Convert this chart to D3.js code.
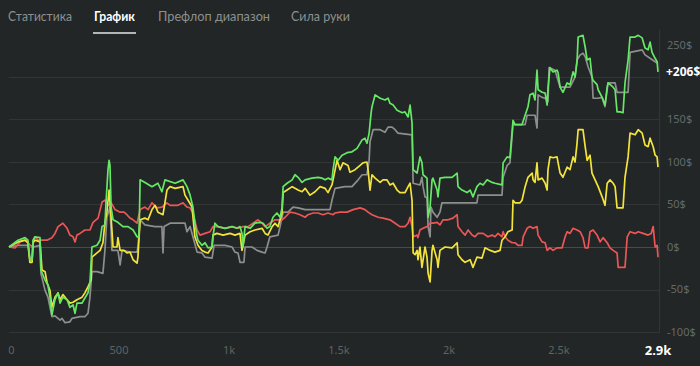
<!DOCTYPE html>
<html><head><meta charset="utf-8">
<script src="https://cdn.jsdelivr.net/npm/d3@7"></script>
<style>
html,body{margin:0;padding:0;background:#222626;}
svg{display:block;}
</style></head>
<body>
<svg id="c" width="700" height="366"></svg>
<script>
const tabs = ["Статистика", "График", "Префлоп диапазон", "Сила руки"];
const activeTab = "График";
const yTicks = [-100, -50, 0, 50, 100, 150, 200, 250];
const xTicks = [0, 500, 1000, 1500, 2000, 2500];
const xTickLabels = ["0", "500", "1k", "1.5k", "2k", "2.5k"];
const totalHands = 2950;
const totalHandsLabel = "2.9k";
const finalLabel = "+206$";

const green = [[0,0],[41,8],[73,11],[86,8],[95,-15],[105,-15],[109,8],[118,12],[141,11],[145,-27],[164,-39],[177,-45],[186,-59],[195,-80],[209,-62],[223,-54],[232,-66],[245,-59],[264,-62],[277,-71],[291,-68],[300,-78],[309,-66],[332,-66],[345,-60],[359,-54],[368,-42],[377,0],[400,2],[414,8],[423,24],[436,26],[441,52],[450,91],[455,102],[459,96],[464,47],[473,32],[495,29],[518,24],[541,24],[564,20],[582,12],[591,12],[596,79],[618,76],[650,71],[677,75],[695,65],[709,79],[755,75],[791,79],[809,71],[823,61],[836,47],[845,28],[855,12],[859,8],[877,2],[891,5],[905,-1],[923,0],[927,12],[936,28],[950,24],[982,22],[1014,24],[1036,22],[1050,24],[1059,16],[1064,0],[1073,24],[1096,22],[1118,28],[1141,29],[1155,28],[1173,22],[1186,24],[1200,35],[1218,40],[1232,35],[1241,46],[1246,71],[1264,75],[1287,79],[1300,85],[1314,82],[1332,76],[1346,79],[1377,81],[1405,82],[1423,81],[1437,79],[1450,81],[1468,79],[1473,91],[1482,106],[1496,102],[1514,108],[1537,111],[1559,112],[1582,116],[1605,126],[1618,128],[1627,122],[1637,134],[1646,158],[1650,165],[1664,179],[1687,175],[1709,173],[1723,175],[1732,169],[1746,167],[1764,161],[1787,158],[1800,159],[1814,153],[1823,167],[1832,146],[1837,91],[1855,87],[1868,106],[1877,99],[1882,85],[1900,81],[1905,35],[1914,47],[1923,79],[1927,81],[1946,67],[1950,59],[1959,81],[1982,82],[2014,82],[2037,87],[2041,71],[2059,67],[2082,64],[2096,67],[2109,59],[2127,71],[2141,75],[2155,73],[2173,79],[2196,76],[2209,75],[2241,73],[2246,99],[2264,106],[2277,105],[2291,149],[2300,144],[2332,144],[2346,155],[2359,165],[2368,179],[2382,181],[2391,173],[2400,208],[2405,185],[2423,182],[2437,181],[2446,167],[2450,187],[2459,211],[2473,206],[2491,208],[2496,205],[2505,188],[2518,182],[2537,193],[2550,191],[2564,206],[2573,200],[2582,218],[2587,247],[2609,249],[2619,235],[2628,220],[2641,222],[2650,200],[2655,196],[2673,191],[2678,185],[2696,176],[2709,167],[2719,188],[2723,193],[2746,188],[2755,185],[2764,159],[2778,159],[2791,158],[2800,193],[2814,220],[2823,247],[2846,247],[2860,249],[2878,246],[2891,234],[2905,232],[2914,241],[2923,229],[2937,222],[2946,218],[2950,206]];

const yellow = [[0,0],[41,6],[73,8],[86,5],[95,-18],[105,-18],[109,5],[118,8],[141,6],[150,-27],[164,-29],[173,-42],[186,-51],[195,-71],[209,-59],[223,-54],[232,-62],[245,-56],[264,-62],[277,-66],[291,-65],[309,-62],[332,-59],[345,-54],[359,-47],[373,-39],[377,-12],[400,-7],[414,-4],[427,5],[436,28],[445,41],[455,67],[464,35],[473,0],[491,0],[495,11],[505,-4],[523,-4],[536,-7],[550,-6],[564,-15],[582,-19],[586,-12],[596,32],[618,34],[632,32],[650,44],[664,49],[677,41],[700,38],[718,67],[732,71],[755,69],[791,71],[800,61],[814,55],[832,47],[845,12],[859,2],[877,-4],[891,-6],[905,-7],[923,0],[927,14],[945,16],[973,14],[1005,16],[1027,14],[1050,16],[1059,-4],[1073,14],[1096,18],[1118,20],[1150,22],[1164,16],[1177,14],[1196,24],[1209,28],[1223,24],[1241,40],[1246,64],[1264,67],[1287,71],[1300,69],[1314,67],[1332,65],[1346,69],[1368,61],[1391,65],[1414,71],[1437,69],[1450,64],[1468,73],[1473,79],[1491,102],[1505,91],[1518,99],[1541,96],[1550,88],[1573,91],[1596,96],[1609,99],[1627,100],[1632,91],[1641,67],[1650,85],[1664,81],[1687,76],[1700,79],[1718,79],[1732,73],[1746,75],[1764,67],[1777,64],[1800,64],[1814,71],[1823,75],[1832,55],[1837,-7],[1846,-9],[1855,-4],[1859,-15],[1868,0],[1877,-24],[1891,0],[1900,-12],[1905,-31],[1914,-41],[1923,-4],[1927,2],[1946,-15],[1950,-24],[1959,-4],[1982,0],[2014,-1],[2037,5],[2041,-9],[2059,-15],[2073,-18],[2096,-15],[2109,-24],[2127,-12],[2150,-13],[2164,-1],[2187,-4],[2209,-6],[2232,-4],[2241,8],[2255,12],[2268,18],[2287,20],[2291,55],[2300,52],[2323,52],[2332,55],[2346,71],[2359,82],[2378,87],[2382,79],[2391,76],[2400,99],[2405,79],[2423,81],[2437,75],[2446,67],[2450,91],[2459,106],[2473,105],[2491,106],[2496,99],[2505,87],[2518,82],[2537,94],[2550,91],[2564,106],[2573,100],[2582,122],[2587,138],[2609,138],[2619,118],[2628,102],[2641,108],[2650,87],[2664,79],[2678,71],[2696,59],[2709,49],[2719,75],[2732,79],[2746,75],[2755,71],[2764,46],[2778,46],[2791,46],[2800,82],[2814,106],[2823,134],[2846,132],[2860,138],[2878,134],[2891,120],[2905,118],[2914,128],[2928,118],[2937,108],[2946,106],[2950,94]];

const red = [[0,0],[27,-1],[50,6],[73,8],[86,5],[105,0],[118,12],[132,8],[150,8],[173,8],[195,11],[209,16],[223,24],[245,28],[264,22],[277,14],[291,12],[300,6],[309,14],[323,16],[345,20],[368,20],[382,29],[405,34],[423,53],[436,55],[450,49],[464,52],[482,44],[505,41],[523,41],[536,38],[550,34],[564,32],[582,28],[596,44],[618,47],[632,44],[650,52],[673,46],[695,47],[718,52],[732,49],[768,49],[791,52],[809,47],[823,46],[836,40],[855,20],[868,14],[891,16],[914,18],[927,24],[950,24],[982,22],[1014,24],[1041,22],[1064,24],[1087,24],[1109,28],[1132,32],[1150,28],[1164,24],[1186,28],[1209,32],[1241,32],[1255,35],[1277,41],[1300,40],[1323,38],[1346,35],[1359,38],[1382,40],[1405,40],[1427,38],[1450,40],[1473,38],[1482,40],[1505,41],[1537,41],[1564,44],[1596,46],[1618,44],[1632,41],[1650,38],[1678,35],[1700,34],[1732,32],[1755,28],[1777,24],[1800,24],[1814,28],[1823,35],[1832,24],[1837,12],[1855,14],[1859,11],[1868,20],[1882,22],[1900,24],[1914,28],[1927,28],[1946,29],[1959,26],[1973,32],[1996,32],[2018,34],[2037,38],[2041,24],[2059,18],[2073,14],[2087,20],[2105,14],[2118,12],[2132,16],[2155,16],[2177,12],[2196,14],[2209,12],[2223,16],[2241,12],[2246,18],[2255,12],[2268,8],[2287,5],[2300,5],[2314,2],[2332,2],[2337,12],[2355,22],[2368,24],[2382,22],[2400,24],[2405,14],[2423,6],[2437,5],[2446,-4],[2459,-1],[2473,-4],[2491,-1],[2514,-1],[2528,12],[2537,18],[2550,16],[2564,22],[2582,20],[2596,18],[2609,11],[2619,-1],[2632,-1],[2641,18],[2655,20],[2673,14],[2687,6],[2700,11],[2719,5],[2732,-1],[2746,-4],[2764,-7],[2769,-24],[2787,-24],[2800,-24],[2810,12],[2823,18],[2846,16],[2860,18],[2882,16],[2905,14],[2919,16],[2928,24],[2937,0],[2946,2],[2950,-12]];

const gray = [[0,0],[41,2],[86,2],[95,-15],[105,-15],[109,0],[141,2],[145,-31],[164,-51],[177,-59],[195,-82],[209,-81],[232,-86],[241,-84],[255,-89],[277,-88],[286,-84],[323,-82],[345,-82],[359,-78],[368,-59],[377,-29],[400,-29],[427,-31],[436,-4],[445,35],[459,47],[468,-4],[495,-4],[505,-21],[514,-4],[550,-6],[582,-6],[586,0],[596,32],[618,26],[664,24],[695,24],[700,-7],[705,24],[732,28],[800,28],[809,18],[823,24],[836,12],[855,-6],[877,-7],[891,-12],[923,-13],[932,2],[982,2],[1014,0],[1027,-6],[1041,-7],[1050,-18],[1068,-18],[1073,0],[1105,0],[1127,-4],[1150,-6],[1164,-7],[1173,0],[1186,12],[1223,14],[1232,24],[1246,41],[1268,41],[1291,47],[1314,46],[1346,44],[1459,44],[1468,55],[1482,69],[1527,71],[1559,71],[1587,79],[1605,85],[1627,85],[1637,102],[1641,124],[1655,138],[1687,138],[1709,135],[1723,141],[1741,141],[1755,138],[1768,134],[1832,132],[1837,75],[1868,73],[1877,82],[1882,71],[1891,59],[1900,58],[1905,24],[1914,12],[1918,47],[1927,41],[1946,35],[1959,41],[1968,52],[2127,52],[2132,61],[2241,61],[2246,82],[2264,96],[2277,99],[2291,144],[2346,144],[2355,155],[2391,155],[2400,140],[2405,179],[2423,176],[2437,175],[2450,171],[2455,211],[2482,208],[2505,188],[2550,188],[2573,200],[2582,220],[2596,226],[2609,228],[2619,224],[2632,212],[2650,200],[2655,175],[2678,175],[2696,176],[2709,165],[2723,193],[2755,193],[2764,182],[2814,182],[2823,229],[2878,232],[2891,226],[2914,222],[2937,218],[2950,216]];

const seriesList = [
  {name: "gray", data: gray, color: "#8e8e8e"},
  {name: "red", data: red, color: "#ec5656"},
  {name: "yellow", data: yellow, color: "#f3e43c"},
  {name: "green", data: green, color: "#66e866"}
];

const svg = d3.select("#c");
const font = "'Segoe UI','Noto Sans','Open Sans',sans-serif";
const tabFont = "Lato,'Noto Sans',sans-serif";

// Tabs
const tabX = [8, 94, 158, 291];
const tabW = [64, 41, 112, 59];
tabs.forEach((t, i) => {
  const active = t === activeTab;
  const el = svg.append("text").attr("x", tabX[i]).attr("y", 21)
    .attr("font-family", tabFont).attr("font-size", 13.5)
    .attr("font-weight", active ? 700 : 400)
    .attr("fill", active ? "#ffffff" : "#8b9190").text(t);
  const w = el.node().getComputedTextLength();
  if (Math.abs(w - tabW[i]) > 2) el.attr("textLength", tabW[i]).attr("lengthAdjust", "spacingAndGlyphs");
  if (active) {
    svg.append("line").attr("x1", tabX[i] - 1).attr("x2", tabX[i] + tabW[i] + 1)
      .attr("y1", 33).attr("y2", 33).attr("stroke", "#e6e6e6").attr("stroke-width", 1.5);
  }
});

const x = d3.scaleLinear().domain([0, totalHands]).range([9, 658]);
const y = d3.scaleLinear().domain([-100, 250]).range([332, 34.5]);

// gridlines
const g = svg.append("g");
yTicks.filter(v => v < 250).forEach(v => {
  g.append("line").attr("x1", 9).attr("x2", 659)
    .attr("y1", Math.round(y(v)) + 0.5).attr("y2", Math.round(y(v)) + 0.5)
    .attr("stroke", v === 0 ? "#474c4b" : "#313635").attr("stroke-width", 1);
});
g.append("line").attr("x1", 659.5).attr("x2", 659.5).attr("y1", 30).attr("y2", 333)
  .attr("stroke", "#313635");

// lines
const line = d3.line().x(d => x(d[0])).y(d => y(d[1])).curve(d3.curveLinear);
seriesList.forEach(s => {
  svg.append("path").datum(s.data).attr("d", line)
    .attr("fill", "none").attr("stroke", s.color).attr("stroke-width", 1.7)
    .attr("stroke-linejoin", "round");
});

// right labels
const finalVal = green[green.length - 1][1];
yTicks.forEach(v => {
  let yy = y(v);
  if (Math.abs(yy - y(finalVal)) < 14) return;
  yy = Math.max(yy, 45);
  svg.append("text").attr("x", 667).attr("y", yy).attr("dy", "0.35em")
    .attr("font-family", font).attr("font-size", 11).attr("fill", "#646a69")
    .text(v + "$");
});
svg.append("text").attr("x", 666).attr("y", y(finalVal)).attr("dy", "0.35em")
  .attr("font-family", font).attr("font-size", 12).attr("font-weight", 700)
  .attr("fill", "#ffffff").text(finalLabel);

// bottom labels
xTicks.forEach((v, i) => {
  svg.append("text").attr("x", i === 0 ? 11.5 : x(v)).attr("y", 350).attr("dy", "0.35em")
    .attr("text-anchor", "middle").attr("font-family", font).attr("font-size", 11)
    .attr("fill", "#5e6463").text(xTickLabels[i]);
});
svg.append("text").attr("x", x(totalHands)).attr("y", 350).attr("dy", "0.35em")
  .attr("text-anchor", "middle").attr("font-family", font).attr("font-size", 13)
  .attr("font-weight", 700).attr("fill", "#ffffff").text(totalHandsLabel);
</script>
</body></html>
